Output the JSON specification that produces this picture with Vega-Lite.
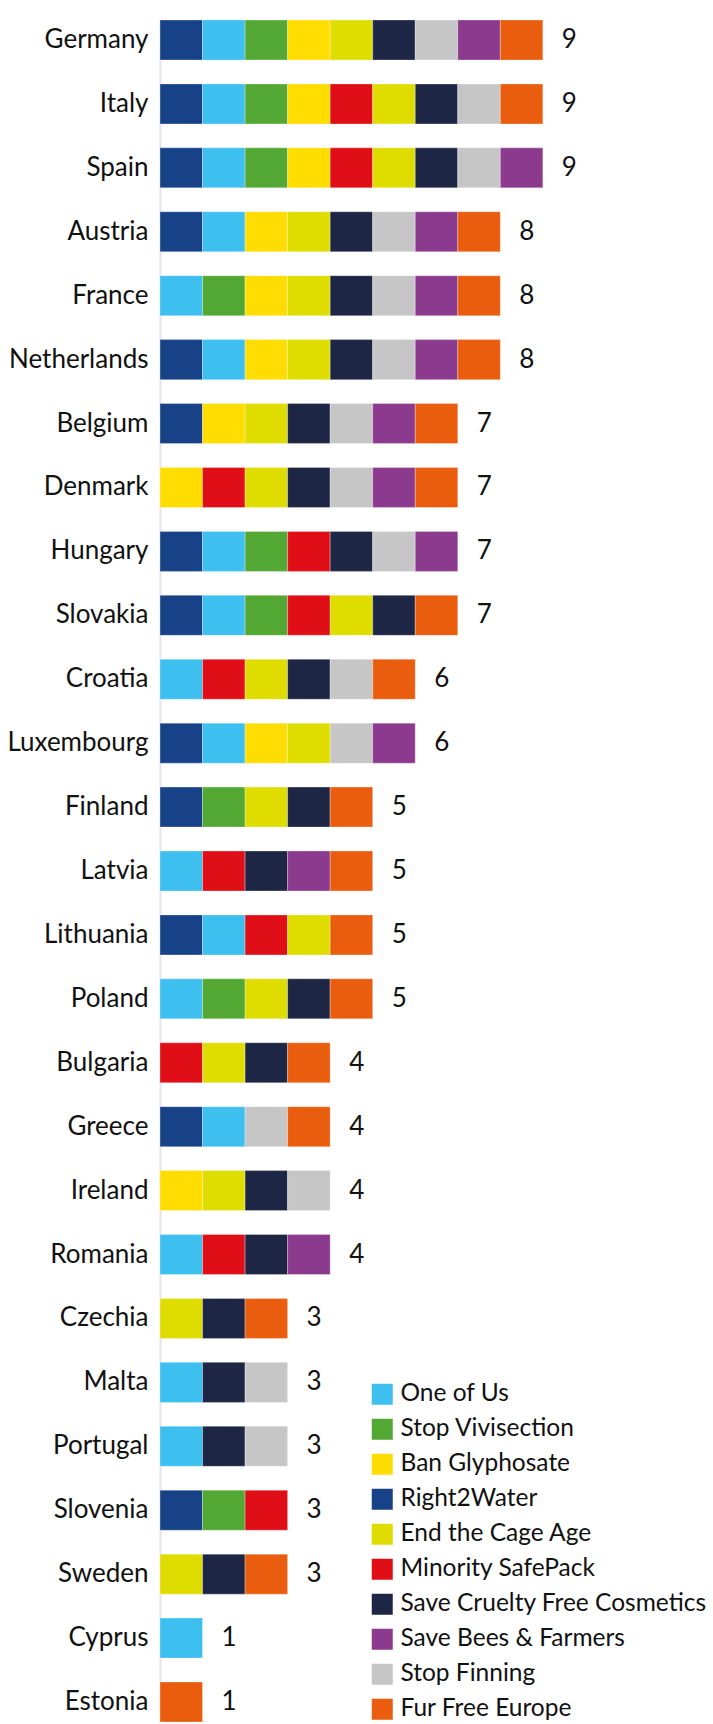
{
  "$schema": "https://vega.github.io/schema/vega-lite/v6.json",
  "autosize": {"type": "none"},
  "padding": {"left": 160, "top": 20, "right": 0, "bottom": 0},
  "width": 553,
  "height": 1702,
  "background": "white",
  "config": {"view": {"stroke": null}, "font": "Lato"},
  "datasets": {
    "initiatives": [
      {"initiative": "Right2Water", "seq": 1},
      {"initiative": "One of Us", "seq": 2},
      {"initiative": "Stop Vivisection", "seq": 3},
      {"initiative": "Ban Glyphosate", "seq": 4},
      {"initiative": "Minority SafePack", "seq": 5},
      {"initiative": "End the Cage Age", "seq": 6},
      {"initiative": "Save Cruelty Free Cosmetics", "seq": 7},
      {"initiative": "Stop Finning", "seq": 8},
      {"initiative": "Save Bees & Farmers", "seq": 9},
      {"initiative": "Fur Free Europe", "seq": 10}
    ]
  },
  "data": {"values": [
    {"country": "Germany", "initiative": "Right2Water"},
    {"country": "Germany", "initiative": "One of Us"},
    {"country": "Germany", "initiative": "Stop Vivisection"},
    {"country": "Germany", "initiative": "Ban Glyphosate"},
    {"country": "Germany", "initiative": "End the Cage Age"},
    {"country": "Germany", "initiative": "Save Cruelty Free Cosmetics"},
    {"country": "Germany", "initiative": "Stop Finning"},
    {"country": "Germany", "initiative": "Save Bees & Farmers"},
    {"country": "Germany", "initiative": "Fur Free Europe"},
    {"country": "Italy", "initiative": "Right2Water"},
    {"country": "Italy", "initiative": "One of Us"},
    {"country": "Italy", "initiative": "Stop Vivisection"},
    {"country": "Italy", "initiative": "Ban Glyphosate"},
    {"country": "Italy", "initiative": "Minority SafePack"},
    {"country": "Italy", "initiative": "End the Cage Age"},
    {"country": "Italy", "initiative": "Save Cruelty Free Cosmetics"},
    {"country": "Italy", "initiative": "Stop Finning"},
    {"country": "Italy", "initiative": "Fur Free Europe"},
    {"country": "Spain", "initiative": "Right2Water"},
    {"country": "Spain", "initiative": "One of Us"},
    {"country": "Spain", "initiative": "Stop Vivisection"},
    {"country": "Spain", "initiative": "Ban Glyphosate"},
    {"country": "Spain", "initiative": "Minority SafePack"},
    {"country": "Spain", "initiative": "End the Cage Age"},
    {"country": "Spain", "initiative": "Save Cruelty Free Cosmetics"},
    {"country": "Spain", "initiative": "Stop Finning"},
    {"country": "Spain", "initiative": "Save Bees & Farmers"},
    {"country": "Austria", "initiative": "Right2Water"},
    {"country": "Austria", "initiative": "One of Us"},
    {"country": "Austria", "initiative": "Ban Glyphosate"},
    {"country": "Austria", "initiative": "End the Cage Age"},
    {"country": "Austria", "initiative": "Save Cruelty Free Cosmetics"},
    {"country": "Austria", "initiative": "Stop Finning"},
    {"country": "Austria", "initiative": "Save Bees & Farmers"},
    {"country": "Austria", "initiative": "Fur Free Europe"},
    {"country": "France", "initiative": "One of Us"},
    {"country": "France", "initiative": "Stop Vivisection"},
    {"country": "France", "initiative": "Ban Glyphosate"},
    {"country": "France", "initiative": "End the Cage Age"},
    {"country": "France", "initiative": "Save Cruelty Free Cosmetics"},
    {"country": "France", "initiative": "Stop Finning"},
    {"country": "France", "initiative": "Save Bees & Farmers"},
    {"country": "France", "initiative": "Fur Free Europe"},
    {"country": "Netherlands", "initiative": "Right2Water"},
    {"country": "Netherlands", "initiative": "One of Us"},
    {"country": "Netherlands", "initiative": "Ban Glyphosate"},
    {"country": "Netherlands", "initiative": "End the Cage Age"},
    {"country": "Netherlands", "initiative": "Save Cruelty Free Cosmetics"},
    {"country": "Netherlands", "initiative": "Stop Finning"},
    {"country": "Netherlands", "initiative": "Save Bees & Farmers"},
    {"country": "Netherlands", "initiative": "Fur Free Europe"},
    {"country": "Belgium", "initiative": "Right2Water"},
    {"country": "Belgium", "initiative": "Ban Glyphosate"},
    {"country": "Belgium", "initiative": "End the Cage Age"},
    {"country": "Belgium", "initiative": "Save Cruelty Free Cosmetics"},
    {"country": "Belgium", "initiative": "Stop Finning"},
    {"country": "Belgium", "initiative": "Save Bees & Farmers"},
    {"country": "Belgium", "initiative": "Fur Free Europe"},
    {"country": "Denmark", "initiative": "Ban Glyphosate"},
    {"country": "Denmark", "initiative": "Minority SafePack"},
    {"country": "Denmark", "initiative": "End the Cage Age"},
    {"country": "Denmark", "initiative": "Save Cruelty Free Cosmetics"},
    {"country": "Denmark", "initiative": "Stop Finning"},
    {"country": "Denmark", "initiative": "Save Bees & Farmers"},
    {"country": "Denmark", "initiative": "Fur Free Europe"},
    {"country": "Hungary", "initiative": "Right2Water"},
    {"country": "Hungary", "initiative": "One of Us"},
    {"country": "Hungary", "initiative": "Stop Vivisection"},
    {"country": "Hungary", "initiative": "Minority SafePack"},
    {"country": "Hungary", "initiative": "Save Cruelty Free Cosmetics"},
    {"country": "Hungary", "initiative": "Stop Finning"},
    {"country": "Hungary", "initiative": "Save Bees & Farmers"},
    {"country": "Slovakia", "initiative": "Right2Water"},
    {"country": "Slovakia", "initiative": "One of Us"},
    {"country": "Slovakia", "initiative": "Stop Vivisection"},
    {"country": "Slovakia", "initiative": "Minority SafePack"},
    {"country": "Slovakia", "initiative": "End the Cage Age"},
    {"country": "Slovakia", "initiative": "Save Cruelty Free Cosmetics"},
    {"country": "Slovakia", "initiative": "Fur Free Europe"},
    {"country": "Croatia", "initiative": "One of Us"},
    {"country": "Croatia", "initiative": "Minority SafePack"},
    {"country": "Croatia", "initiative": "End the Cage Age"},
    {"country": "Croatia", "initiative": "Save Cruelty Free Cosmetics"},
    {"country": "Croatia", "initiative": "Stop Finning"},
    {"country": "Croatia", "initiative": "Fur Free Europe"},
    {"country": "Luxembourg", "initiative": "Right2Water"},
    {"country": "Luxembourg", "initiative": "One of Us"},
    {"country": "Luxembourg", "initiative": "Ban Glyphosate"},
    {"country": "Luxembourg", "initiative": "End the Cage Age"},
    {"country": "Luxembourg", "initiative": "Stop Finning"},
    {"country": "Luxembourg", "initiative": "Save Bees & Farmers"},
    {"country": "Finland", "initiative": "Right2Water"},
    {"country": "Finland", "initiative": "Stop Vivisection"},
    {"country": "Finland", "initiative": "End the Cage Age"},
    {"country": "Finland", "initiative": "Save Cruelty Free Cosmetics"},
    {"country": "Finland", "initiative": "Fur Free Europe"},
    {"country": "Latvia", "initiative": "One of Us"},
    {"country": "Latvia", "initiative": "Minority SafePack"},
    {"country": "Latvia", "initiative": "Save Cruelty Free Cosmetics"},
    {"country": "Latvia", "initiative": "Save Bees & Farmers"},
    {"country": "Latvia", "initiative": "Fur Free Europe"},
    {"country": "Lithuania", "initiative": "Right2Water"},
    {"country": "Lithuania", "initiative": "One of Us"},
    {"country": "Lithuania", "initiative": "Minority SafePack"},
    {"country": "Lithuania", "initiative": "End the Cage Age"},
    {"country": "Lithuania", "initiative": "Fur Free Europe"},
    {"country": "Poland", "initiative": "One of Us"},
    {"country": "Poland", "initiative": "Stop Vivisection"},
    {"country": "Poland", "initiative": "End the Cage Age"},
    {"country": "Poland", "initiative": "Save Cruelty Free Cosmetics"},
    {"country": "Poland", "initiative": "Fur Free Europe"},
    {"country": "Bulgaria", "initiative": "Minority SafePack"},
    {"country": "Bulgaria", "initiative": "End the Cage Age"},
    {"country": "Bulgaria", "initiative": "Save Cruelty Free Cosmetics"},
    {"country": "Bulgaria", "initiative": "Fur Free Europe"},
    {"country": "Greece", "initiative": "Right2Water"},
    {"country": "Greece", "initiative": "One of Us"},
    {"country": "Greece", "initiative": "Stop Finning"},
    {"country": "Greece", "initiative": "Fur Free Europe"},
    {"country": "Ireland", "initiative": "Ban Glyphosate"},
    {"country": "Ireland", "initiative": "End the Cage Age"},
    {"country": "Ireland", "initiative": "Save Cruelty Free Cosmetics"},
    {"country": "Ireland", "initiative": "Stop Finning"},
    {"country": "Romania", "initiative": "One of Us"},
    {"country": "Romania", "initiative": "Minority SafePack"},
    {"country": "Romania", "initiative": "Save Cruelty Free Cosmetics"},
    {"country": "Romania", "initiative": "Save Bees & Farmers"},
    {"country": "Czechia", "initiative": "End the Cage Age"},
    {"country": "Czechia", "initiative": "Save Cruelty Free Cosmetics"},
    {"country": "Czechia", "initiative": "Fur Free Europe"},
    {"country": "Malta", "initiative": "One of Us"},
    {"country": "Malta", "initiative": "Save Cruelty Free Cosmetics"},
    {"country": "Malta", "initiative": "Stop Finning"},
    {"country": "Portugal", "initiative": "One of Us"},
    {"country": "Portugal", "initiative": "Save Cruelty Free Cosmetics"},
    {"country": "Portugal", "initiative": "Stop Finning"},
    {"country": "Slovenia", "initiative": "Right2Water"},
    {"country": "Slovenia", "initiative": "Stop Vivisection"},
    {"country": "Slovenia", "initiative": "Minority SafePack"},
    {"country": "Sweden", "initiative": "End the Cage Age"},
    {"country": "Sweden", "initiative": "Save Cruelty Free Cosmetics"},
    {"country": "Sweden", "initiative": "Fur Free Europe"},
    {"country": "Cyprus", "initiative": "One of Us"},
    {"country": "Estonia", "initiative": "Fur Free Europe"}
  ]},
  "transform": [
    {"lookup": "initiative", "from": {"data": {"name": "initiatives"}, "key": "initiative", "fields": ["seq"]}}
  ],
  "encoding": {
    "y": {
      "field": "country",
      "type": "nominal",
      "sort": ["Germany","Italy","Spain","Austria","France","Netherlands","Belgium","Denmark","Hungary","Slovakia","Croatia","Luxembourg","Finland","Latvia","Lithuania","Poland","Bulgaria","Greece","Ireland","Romania","Czechia","Malta","Portugal","Slovenia","Sweden","Cyprus","Estonia"],
      "scale": {"paddingInner": 0.374, "paddingOuter": 0},
      "axis": {
        "title": null,
        "ticks": false,
        "domainColor": "#e6e6e6",
        "domainWidth": 2,
        "labelFont": "Lato",
        "labelFontSize": 26,
        "labelColor": "#111111",
        "labelPadding": 12
      }
    }
  },
  "layer": [
    {
      "mark": {"type": "bar", "stroke": "#ffffff", "strokeWidth": 0.6, "strokeOpacity": 0.5},
      "encoding": {
        "x": {"aggregate": "count", "type": "quantitative", "stack": "zero", "scale": {"domain": [0, 13], "nice": false}, "axis": null},
        "order": {"field": "seq", "type": "quantitative", "sort": "ascending"},
        "color": {
          "field": "initiative",
          "type": "nominal",
          "scale": {
            "domain": ["One of Us","Stop Vivisection","Ban Glyphosate","Right2Water","End the Cage Age","Minority SafePack","Save Cruelty Free Cosmetics","Save Bees & Farmers","Stop Finning","Fur Free Europe"],
            "range": ["#3DBFEF","#53A834","#FFDD00","#174287","#DFDD00","#DF0E17","#1D2644","#8B3A8E","#C6C6C6","#EA5D0E"]
          },
          "legend": {
            "title": null,
            "orient": "none",
            "legendX": 210,
            "legendY": 1362,
            "padding": 0,
            "symbolType": "square",
            "symbolSize": 441,
            "symbolStrokeWidth": 0,
            "labelFont": "Lato",
            "labelFontSize": 24.5,
            "labelColor": "#111111",
            "labelOffset": 6,
            "rowPadding": 10,
            "labelLimit": 400
          }
        }
      }
    },
    {
      "transform": [{"aggregate": [{"op": "count", "as": "total"}], "groupby": ["country"]}],
      "mark": {"type": "text", "align": "left", "baseline": "middle", "dx": 19, "font": "Lato", "fontSize": 26, "color": "#111111"},
      "encoding": {
        "x": {"field": "total", "type": "quantitative"},
        "text": {"field": "total", "type": "quantitative"}
      }
    }
  ]
}
